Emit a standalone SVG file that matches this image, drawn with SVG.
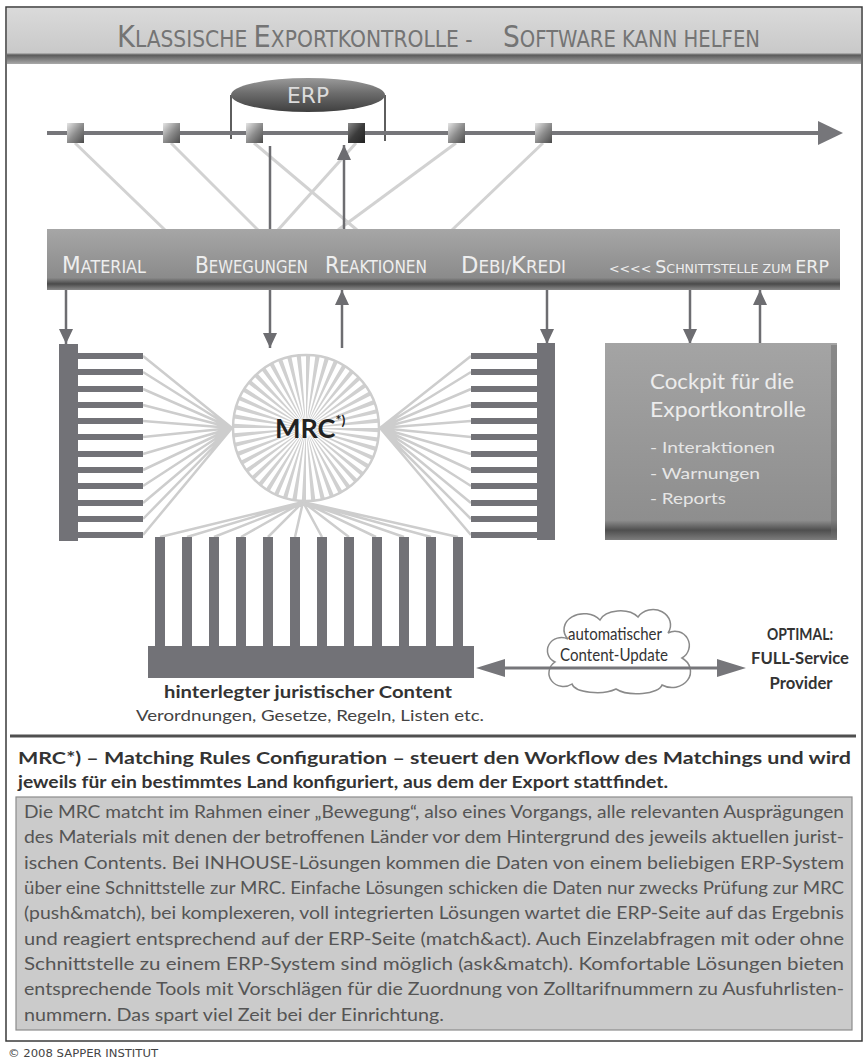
<svg xmlns="http://www.w3.org/2000/svg" width="866" height="1064" viewBox="0 0 866 1064">
<style>
.cond{font-family:"DejaVu Sans","Liberation Sans",sans-serif}
.body{font-family:Lato,"Open Sans","Liberation Sans",sans-serif}
.ttl{fill:#747474}
.comb{fill:#727277}
.fan{stroke:#cdcdcd;stroke-width:2.5;fill:none}
.lt{stroke:#d2d2d2;stroke-width:3;fill:none}
.arr{stroke:#6d6d71;stroke-width:2.5;fill:none;marker-end:url(#ah)}
.bar{fill:#eeeeee}
</style>
<defs>
<marker id="ah" markerUnits="userSpaceOnUse" markerWidth="15" markerHeight="14" refX="15" refY="7" orient="auto">
<path d="M0,0 L15,7 L0,14 z" fill="#6d6d71"/>
</marker>
<linearGradient id="gTitle" x1="0" y1="0" x2="0" y2="1">
<stop offset="0" stop-color="#dadada"/><stop offset="0.8" stop-color="#c9c9c9"/><stop offset="0.84" stop-color="#5a5a5a"/><stop offset="1" stop-color="#a9a9a9"/>
</linearGradient>
<linearGradient id="gErp" x1="0" y1="0" x2="0" y2="1">
<stop offset="0" stop-color="#9a9a9a"/><stop offset="0.45" stop-color="#6c6c6c"/><stop offset="1" stop-color="#3f3f3f"/>
</linearGradient>
<linearGradient id="gSq" x1="0" y1="0" x2="1" y2="1">
<stop offset="0" stop-color="#e6e6e6"/><stop offset="0.5" stop-color="#8e8e8e"/><stop offset="1" stop-color="#4a4a4a"/>
</linearGradient>
<linearGradient id="gSqD" x1="0" y1="0" x2="1" y2="1">
<stop offset="0" stop-color="#8a8a8a"/><stop offset="0.5" stop-color="#3c3c3c"/><stop offset="1" stop-color="#222"/>
</linearGradient>
<linearGradient id="gBar" x1="0" y1="0" x2="0" y2="1">
<stop offset="0" stop-color="#a6a6a6"/><stop offset="0.8" stop-color="#8b8b8b"/><stop offset="0.9" stop-color="#4a4a4a"/><stop offset="1" stop-color="#8a8a8a"/>
</linearGradient>
<linearGradient id="gBox" x1="0" y1="0" x2="0" y2="1">
<stop offset="0" stop-color="#a4a4a4"/><stop offset="0.9" stop-color="#8e8e8e"/><stop offset="0.95" stop-color="#4f4f4f"/><stop offset="1" stop-color="#7c7c7c"/>
</linearGradient>
</defs>

<rect x="6" y="7" width="856" height="1034" fill="#fff" stroke="#3a3a3a" stroke-width="1.5"/>

<g id="title">
<rect x="7" y="8" width="854" height="56" fill="url(#gTitle)"/>
<text class="cond ttl" transform="translate(117,47) scale(0.881,1)" font-size="23"><tspan font-size="31">K</tspan>LASSISCHE <tspan font-size="31">E</tspan>XPORTKONTROLLE -</text>
<text class="cond ttl" transform="translate(503,47) scale(0.853,1)" font-size="23"><tspan font-size="31">S</tspan>OFTWARE KANN HELFEN</text>
</g>

<g id="connectors">
<line class="lt" x1="75" y1="143" x2="165" y2="230"/>
<line class="lt" x1="171" y1="143" x2="258" y2="230"/>
<line class="lt" x1="254" y1="143" x2="357" y2="230"/>
<line class="lt" x1="356" y1="143" x2="278" y2="230"/>
<line class="lt" x1="456" y1="143" x2="338" y2="230"/>
<line class="lt" x1="543" y1="143" x2="452" y2="230"/>
<path d="M231,95 V139 M385,95 V141" stroke="#5e5e5e" stroke-width="2" fill="none"/>
<line x1="47" y1="133" x2="822" y2="133" stroke="#76767a" stroke-width="4"/>
<path d="M818,121 L843,133 L818,145 z" fill="#76767a"/>
<line class="arr" x1="270" y1="146" x2="270" y2="245"/>
<line class="arr" x1="344" y1="247" x2="344" y2="145"/>
<line class="arr" x1="66" y1="289" x2="66" y2="344"/>
<line class="arr" x1="270" y1="289" x2="270" y2="348"/>
<line class="arr" x1="342" y1="348" x2="342" y2="290"/>
<line class="arr" x1="547" y1="289" x2="547" y2="344"/>
<line class="arr" x1="690" y1="289" x2="690" y2="344"/>
<line class="arr" x1="760" y1="344" x2="760" y2="290"/>
<g class="fan">
<path d="M143,356 L232,428 M143,372 L232,428 M143,389 L232,428 M143,405 L232,428 M143,421 L232,428 M143,437 L232,428 M143,454 L232,428 M143,470 L232,428 M143,486 L232,428 M143,503 L232,428 M143,519 L232,428 M143,535 L232,428"/>
<path d="M471,356 L380,428 M471,372 L380,428 M471,389 L380,428 M471,405 L380,428 M471,421 L380,428 M471,437 L380,428 M471,454 L380,428 M471,470 L380,428 M471,486 L380,428 M471,503 L380,428 M471,519 L380,428 M471,535 L380,428"/>
<path d="M303,502 L160,537 M303,502 L187,537 M303,502 L214,537 M303,502 L241,537 M303,502 L268,537 M303,502 L295,537 M303,502 L322,537 M303,502 L349,537 M303,502 L376,537 M303,502 L404,537 M303,502 L431,537 M303,502 L458,537"/>
</g>
</g>

<g id="erp">
<ellipse cx="308" cy="95" rx="77" ry="17" fill="url(#gErp)"/>
<text class="cond" x="308" y="103" font-size="22" fill="#dcdcdc" text-anchor="middle" textLength="42" lengthAdjust="spacingAndGlyphs">ERP</text>
</g>

<g id="timeline-squares">
<rect x="67" y="123" width="17" height="20" fill="url(#gSq)"/>
<rect x="163" y="123" width="17" height="20" fill="url(#gSq)"/>
<rect x="246" y="123" width="17" height="20" fill="url(#gSq)"/>
<rect x="348" y="123" width="17" height="20" fill="url(#gSqD)"/>
<rect x="448" y="123" width="17" height="20" fill="url(#gSq)"/>
<rect x="535" y="123" width="17" height="20" fill="url(#gSq)"/>
</g>

<g id="interface-bar">
<rect x="47" y="229" width="793" height="61" fill="url(#gBar)"/>
<text class="cond bar" x="62" y="273" font-size="17" textLength="84" lengthAdjust="spacingAndGlyphs"><tspan font-size="23">M</tspan>ATERIAL</text>
<text class="cond bar" x="195" y="273" font-size="17" textLength="113" lengthAdjust="spacingAndGlyphs"><tspan font-size="23">B</tspan>EWEGUNGEN</text>
<text class="cond bar" x="325" y="273" font-size="17" textLength="102" lengthAdjust="spacingAndGlyphs"><tspan font-size="23">R</tspan>EAKTIONEN</text>
<text class="cond bar" x="461" y="273" font-size="17" textLength="105" lengthAdjust="spacingAndGlyphs"><tspan font-size="23">D</tspan>EBI/<tspan font-size="23">K</tspan>REDI</text>
<text class="cond bar" x="609" y="273" font-size="13" textLength="220" lengthAdjust="spacingAndGlyphs">&lt;&lt;&lt;&lt; <tspan font-size="18">S</tspan>CHNITTSTELLE ZUM <tspan font-size="18">ERP</tspan></text>
</g>

<g id="left-comb">
<rect class="comb" x="59" y="344" width="19" height="197"/>
<g class="comb">
<rect x="78" y="353" width="65" height="6"/><rect x="78" y="369" width="65" height="6"/><rect x="78" y="386" width="65" height="6"/><rect x="78" y="402" width="65" height="6"/><rect x="78" y="418" width="65" height="6"/><rect x="78" y="434" width="65" height="6"/><rect x="78" y="451" width="65" height="6"/><rect x="78" y="467" width="65" height="6"/><rect x="78" y="483" width="65" height="6"/><rect x="78" y="500" width="65" height="6"/><rect x="78" y="516" width="65" height="6"/><rect x="78" y="532" width="65" height="6"/>
</g>
</g>

<g id="right-comb">
<rect class="comb" x="537" y="343" width="18" height="197"/>
<g class="comb">
<rect x="471" y="353" width="66" height="6"/><rect x="471" y="369" width="66" height="6"/><rect x="471" y="386" width="66" height="6"/><rect x="471" y="402" width="66" height="6"/><rect x="471" y="418" width="66" height="6"/><rect x="471" y="434" width="66" height="6"/><rect x="471" y="451" width="66" height="6"/><rect x="471" y="467" width="66" height="6"/><rect x="471" y="483" width="66" height="6"/><rect x="471" y="500" width="66" height="6"/><rect x="471" y="516" width="66" height="6"/><rect x="471" y="532" width="66" height="6"/>
</g>
</g>

<g id="mrc">
<circle cx="306" cy="428" r="40.5" fill="none" stroke="#d0d0d0" stroke-width="65" pathLength="48" stroke-dasharray="0.45 0.55"/>
<circle cx="306" cy="428" r="73" fill="none" stroke="#cdcdcd" stroke-width="2.5"/>
<text class="body" x="275" y="438" font-size="27" font-weight="bold" fill="#222">MRC<tspan font-size="14" dy="-13">*)</tspan></text>
</g>

<g id="cockpit">
<rect x="605" y="343" width="232" height="197" fill="url(#gBox)"/>
<rect x="831" y="345" width="6" height="193" fill="#6e6e6e" opacity="0.5"/>
<text class="body" x="650" y="389" font-size="21" fill="#ececec" textLength="144" lengthAdjust="spacingAndGlyphs">Cockpit für die</text>
<text class="body" x="650" y="417" font-size="21" fill="#ececec" textLength="156" lengthAdjust="spacingAndGlyphs">Exportkontrolle</text>
<text class="body" x="650" y="453" font-size="16" fill="#e6e6e6" textLength="125" lengthAdjust="spacingAndGlyphs">- Interaktionen</text>
<text class="body" x="650" y="479" font-size="16" fill="#e6e6e6" textLength="110" lengthAdjust="spacingAndGlyphs">- Warnungen</text>
<text class="body" x="650" y="504" font-size="16" fill="#e6e6e6" textLength="76" lengthAdjust="spacingAndGlyphs">- Reports</text>
</g>

<g id="content-comb">
<rect class="comb" x="148" y="646" width="326" height="32"/>
<g class="comb">
<rect x="155" y="537" width="10" height="110"/><rect x="182" y="537" width="10" height="110"/><rect x="209" y="537" width="10" height="110"/><rect x="236" y="537" width="10" height="110"/><rect x="263" y="537" width="10" height="110"/><rect x="290" y="537" width="10" height="110"/><rect x="317" y="537" width="10" height="110"/><rect x="344" y="537" width="10" height="110"/><rect x="372" y="537" width="10" height="110"/><rect x="399" y="537" width="10" height="110"/><rect x="426" y="537" width="10" height="110"/><rect x="453" y="537" width="10" height="110"/>
</g>
<text class="body" x="308" y="698" font-size="17" font-weight="bold" fill="#333" text-anchor="middle" textLength="288" lengthAdjust="spacingAndGlyphs">hinterlegter juristischer Content</text>
<text class="body" x="310" y="721" font-size="16" fill="#444" text-anchor="middle" textLength="348" lengthAdjust="spacingAndGlyphs">Verordnungen, Gesetze, Regeln, Listen etc.</text>
</g>

<g id="cloud">
<path d="M572,684 A14,13 0 0 1 555,662 A13,12 0 0 1 568,639 A19,15 0 0 1 600,620 A21,13 0 0 1 638,617 A17,15 0 0 1 668,633 A14,14 0 0 1 682,658 A15,13 0 0 1 662,685 A25,10 0 0 1 616,689 A25,10 0 0 1 572,684 Z" fill="#fff" stroke="#8a8a8a" stroke-width="1.5"/>
<text class="body" x="615" y="640" font-size="17" fill="#333" text-anchor="middle" textLength="94" lengthAdjust="spacingAndGlyphs">automatischer</text>
<text class="body" x="614" y="661" font-size="17" fill="#333" text-anchor="middle" textLength="108" lengthAdjust="spacingAndGlyphs">Content-Update</text>
</g>

<g id="update-arrow">
<line x1="495" y1="668" x2="728" y2="668" stroke="#76767a" stroke-width="3"/>
<path d="M476,668 L505,659 L505,677 z M746,668 L717,659 L717,677 z" fill="#76767a"/>
</g>

<g id="provider">
<text class="body" x="800" y="640" font-size="17" font-weight="bold" fill="#333" text-anchor="middle" textLength="66" lengthAdjust="spacingAndGlyphs">OPTIMAL:</text>
<text class="body" x="800" y="664" font-size="17" font-weight="bold" fill="#333" text-anchor="middle" textLength="98" lengthAdjust="spacingAndGlyphs">FULL-Service</text>
<text class="body" x="801" y="689" font-size="17" font-weight="bold" fill="#333" text-anchor="middle" textLength="63" lengthAdjust="spacingAndGlyphs">Provider</text>
</g>

<line x1="10" y1="736" x2="856" y2="736" stroke="#4f4f4f" stroke-width="3"/>

<g id="definition">
<text class="body" x="18" y="764" font-size="17" font-weight="bold" fill="#333" textLength="833" lengthAdjust="spacingAndGlyphs">MRC*) – Matching Rules Configuration – steuert den Workflow des Matchings und wird</text>
<text class="body" x="18" y="788" font-size="17" font-weight="bold" fill="#333" textLength="650" lengthAdjust="spacingAndGlyphs">jeweils für ein bestimmtes Land konfiguriert, aus dem der Export stattfindet.</text>
</g>

<g id="description">
<rect x="16" y="797" width="836" height="233" fill="#cbcbcb" stroke="#8c8c8c" stroke-width="1.2"/>
<g class="body" font-size="16.5" fill="#555">
<text x="24" y="818" textLength="820" lengthAdjust="spacingAndGlyphs">Die MRC matcht im Rahmen einer „Bewegung“, also eines Vorgangs, alle relevanten Ausprägungen</text>
<text x="24" y="843" textLength="820" lengthAdjust="spacingAndGlyphs">des Materials mit denen der betroffenen Länder vor dem Hintergrund des jeweils aktuellen jurist-</text>
<text x="24" y="869" textLength="820" lengthAdjust="spacingAndGlyphs">ischen Contents. Bei INHOUSE-Lösungen kommen die Daten von einem beliebigen ERP-System</text>
<text x="24" y="894" textLength="820" lengthAdjust="spacingAndGlyphs">über eine Schnittstelle zur MRC. Einfache Lösungen schicken die Daten nur zwecks Prüfung zur MRC</text>
<text x="24" y="919" textLength="820" lengthAdjust="spacingAndGlyphs">(push&amp;match), bei komplexeren, voll integrierten Lösungen wartet die ERP-Seite auf das Ergebnis</text>
<text x="24" y="945" textLength="820" lengthAdjust="spacingAndGlyphs">und reagiert entsprechend auf der ERP-Seite (match&amp;act). Auch Einzelabfragen mit oder ohne</text>
<text x="24" y="970" textLength="820" lengthAdjust="spacingAndGlyphs">Schnittstelle zu einem ERP-System sind möglich (ask&amp;match). Komfortable Lösungen bieten</text>
<text x="24" y="995" textLength="820" lengthAdjust="spacingAndGlyphs">entsprechende Tools mit Vorschlägen für die Zuordnung von Zolltarifnummern zu Ausfuhrlisten-</text>
<text x="24" y="1021" textLength="420" lengthAdjust="spacingAndGlyphs">nummern. Das spart viel Zeit bei der Einrichtung.</text>
</g>
</g>

<text class="cond" x="8" y="1057" font-size="11" fill="#444" textLength="150" lengthAdjust="spacingAndGlyphs">© 2008 SAPPER INSTITUT</text>
</svg>
